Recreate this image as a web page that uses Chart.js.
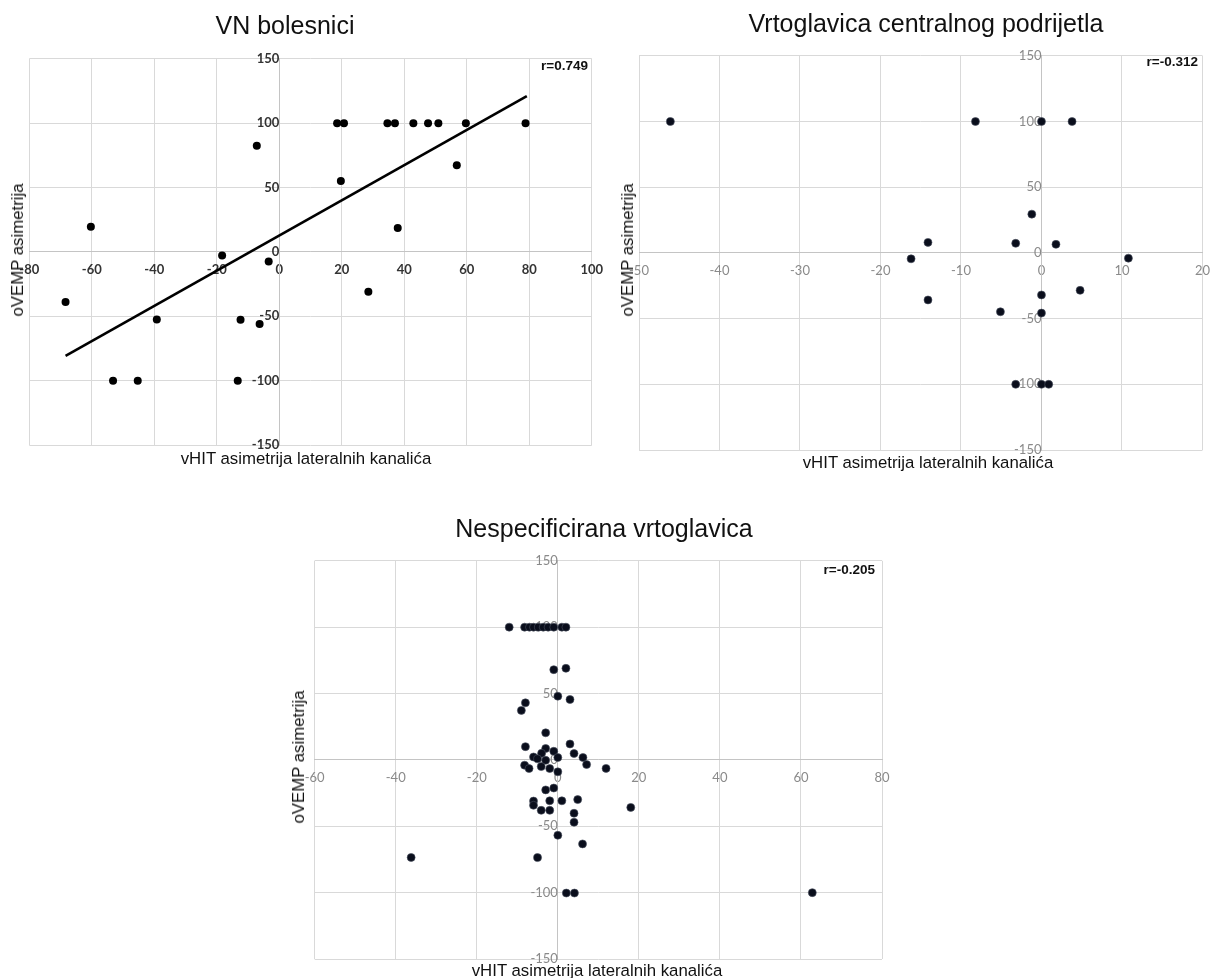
<!DOCTYPE html>
<html>
<head>
<meta charset="utf-8">
<script src="https://cdn.jsdelivr.net/npm/chart.js@4.4.1/dist/chart.umd.min.js"></script>
<style>
  html, body { margin: 0; padding: 0; background: #fff; width: 1220px; height: 978px; overflow: hidden; }
  canvas { position: absolute; }
  .t { position: absolute; transform: translate(-50%, -50%); white-space: nowrap; font-family: "Liberation Sans", Arial, sans-serif; color: #111; z-index: 5; }
  .title { font-size: 25px; }
  .axt { font-size: 16.8px; }
  .yt { transform: translate(-50%, -50%) rotate(-90deg); }
  .r { font-size: 13.5px; font-weight: bold; transform: translate(-100%, -50%); }
</style>
</head>
<body>
<canvas id="c1" width="620" height="437" style="left:0px;top:38px"></canvas>
<canvas id="c2" width="610" height="445" style="left:610px;top:35px"></canvas>
<canvas id="c3" width="625" height="440" style="left:285px;top:540px"></canvas>

<div class="t title" style="left:285px;top:25px">VN bolesnici</div>
<div class="t axt yt" style="left:18px;top:250px">oVEMP asimetrija</div>
<div class="t axt" style="left:306px;top:459px">vHIT asimetrija lateralnih kanalića</div>
<div class="t r" style="left:588px;top:65px">r=0.749</div>

<div class="t title" style="left:926px;top:23px">Vrtoglavica centralnog podrijetla</div>
<div class="t axt yt" style="left:628px;top:250px">oVEMP asimetrija</div>
<div class="t axt" style="left:928px;top:463px">vHIT asimetrija lateralnih kanalića</div>
<div class="t r" style="left:1198px;top:61px">r=-0.312</div>

<div class="t title" style="left:604px;top:528px">Nespecificirana vrtoglavica</div>
<div class="t axt yt" style="left:299px;top:757px">oVEMP asimetrija</div>
<div class="t axt" style="left:597px;top:971px">vHIT asimetrija lateralnih kanalića</div>
<div class="t r" style="left:875px;top:569px">r=-0.205</div>

<script>
// ---- Chart 1: VN bolesnici ----
const vnX = [-68.4, -60.3, -53.2, -45.3, -39.2, -18.3, -12.4, -13.3, -7.2, -6.3, -3.4, 18.5, 20.7, 19.7, 28.5, 34.6, 37.0, 37.9, 42.9, 47.6, 50.9, 56.8, 59.7, 78.8];
const vnY = [-39, 19.5, -100, -100, -52.5, -2.8, -52.8, -100, 82.4, -56, -7.4, 100, 100, 55, -31, 100, 100, 18.6, 100, 100, 100, 67.3, 100, 100];
const vnTrendX = [-68.4, 79.2];
const vnTrendY = [-80.8, 121];
const vnXTicks = [-80, -60, -40, -20, 0, 20, 40, 60, 80, 100];
const vnYTicks = [-150, -100, -50, 0, 50, 100, 150];

// ---- Chart 2: Vrtoglavica centralnog podrijetla ----
const cpX = [-46.1, -8.2, 0, 3.8, -1.2, -14.1, -3.2, 1.8, -16.2, 10.8, 4.8, 0, -14.1, -5.1, 0, -3.2, 0, 0.9];
const cpY = [100, 100, 100, 100, 29.5, 8, 7.3, 6.5, -4.5, -4, -28.5, -32, -35.8, -44.8, -45.8, -100, -100, -100];
const cpXTicks = [-50, -40, -30, -20, -10, 0, 10, 20];
const cpYTicks = [-150, -100, -50, 0, 50, 100, 150];

// ---- Chart 3: Nespecificirana vrtoglavica ----
const nvX = [-12, -8.2, -7, -6, -4.8, -3.6, -2.4, -1, 1, 2,
             -1, 2, 0, 3, -8, -9, -3,
             -8, 3, -3, -1, 4, -4, -6, -5, -3, 0, 6.2, 7.1, -8.2, -7.1, -4.1, -2, 11.9, 0,
             -3, -1, -6, -6, -2, 1, 4.9, -4.1, -2, 4, 4, 0, 6.1, -5, 2.1, 4.1, 18, -36.2, 62.8];
const nvY = [100, 100, 100, 100, 100, 100, 100, 100, 100, 100,
             68, 69, 48, 45.5, 43, 37.3, 20.4,
             10, 12, 8.6, 6.5, 4.8, 5, 2.2, 0.8, -0.3, 1.8, 1.8, -3.5, -4, -6.5, -5, -6.5, -6.4, -9,
             -22.6, -21.2, -31, -34.2, -30.8, -30.8, -29.9, -38, -38, -40.2, -47, -56.8, -63.3, -73.6, -100.3, -100.3, -35.8, -73.5, -100];
const nvXTicks = [-60, -40, -20, 0, 20, 40, 60, 80];
const nvYTicks = [-150, -100, -50, 0, 50, 100, 150];

function pts(xs, ys) { return xs.map((x, i) => ({ x: x, y: ys[i] })); }

function makeChart(id, xs, ys, xTicks, yTicks, pad, style, trend) {
  const datasets = [{
    data: pts(xs, ys),
    pointRadius: style.r,
    pointHoverRadius: style.r,
    pointBackgroundColor: style.pt,
    pointBorderColor: style.ptBorder,
    pointBorderWidth: style.ptBorderW,
    showLine: false,
    order: 1
  }];
  if (trend) {
    datasets.push({
      data: pts(trend[0], trend[1]),
      showLine: true,
      pointRadius: 0,
      borderColor: '#000',
      borderWidth: 2.6,
      order: 2
    });
  }
  const tickFont = { family: 'Lato, "Open Sans", sans-serif', size: 13, weight: style.tickWeight };
  const scaleBase = (ticks) => ({
    type: 'linear',
    min: ticks[0],
    max: ticks[ticks.length - 1],
    afterBuildTicks: (s) => { s.ticks = ticks.map(v => ({ value: v })); },
    grid: { color: '#d9d9d9', lineWidth: 1, drawTicks: false },
    border: { display: true, color: '#c4c4c4', width: 1 }
  });
  const xs_ = scaleBase(xTicks);
  xs_.position = { y: 0 };
  xs_.ticks = { padding: 10, color: style.tickColor, font: tickFont, maxRotation: 0, autoSkip: false };
  const ys_ = scaleBase(yTicks);
  ys_.position = { x: 0 };
  ys_.ticks = { padding: 13, color: style.tickColor, font: tickFont, autoSkip: false };
  new Chart(document.getElementById(id), {
    type: 'scatter',
    data: { datasets: datasets },
    options: {
      responsive: false,
      animation: false,
      devicePixelRatio: 1,
      layout: { padding: pad },
      plugins: { legend: { display: false }, tooltip: { enabled: false } },
      scales: { x: xs_, y: ys_ }
    }
  });
}

makeChart('c1', vnX, vnY, vnXTicks, vnYTicks,
  { left: 29.3, right: 28.2, top: 14.7, bottom: 30 },
  { r: 4, pt: '#000', ptBorder: '#000', ptBorderW: 0, tickColor: '#333', tickWeight: 'bold' },
  [vnTrendX, vnTrendY]);

makeChart('c2', cpX, cpY, cpXTicks, cpYTicks,
  { left: 29, right: 15, top: 14.3, bottom: 30 },
  { r: 4, pt: '#0a0e1c', ptBorder: '#4a5060', ptBorderW: 0.6, tickColor: '#8a8a8a', tickWeight: 'normal' },
  null);

makeChart('c3', nvX, nvY, nvXTicks, nvYTicks,
  { left: 29.7, right: 28, top: 15, bottom: 21 },
  { r: 4, pt: '#0a0e1c', ptBorder: '#4a5060', ptBorderW: 0.6, tickColor: '#8a8a8a', tickWeight: 'normal' },
  null);
</script>
</body>
</html>
